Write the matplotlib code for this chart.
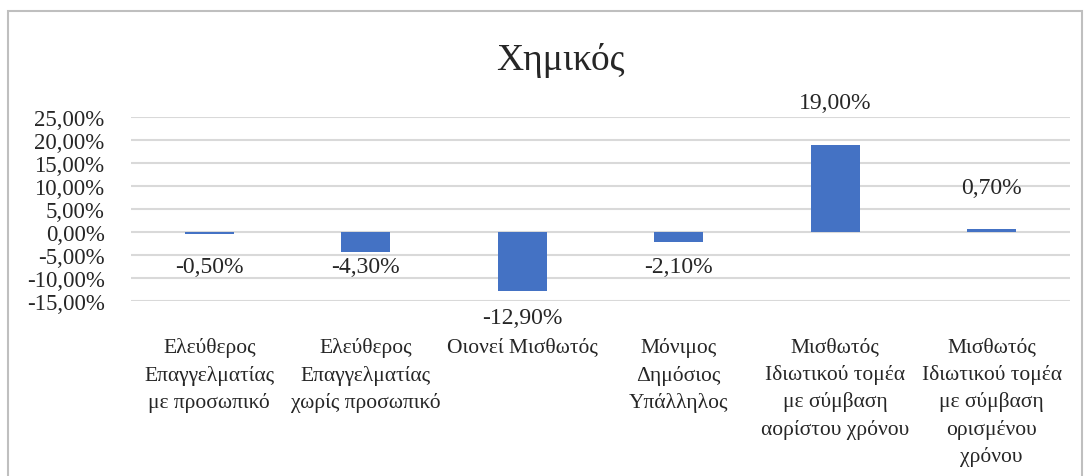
import matplotlib.pyplot as plt
from matplotlib.patches import Rectangle
from matplotlib.ticker import FuncFormatter

categories = [
    "Ελεύθερος\nΕπαγγελματίας\nμε προσωπικό",
    "Ελεύθερος\nΕπαγγελματίας\nχωρίς προσωπικό",
    "Οιονεί Μισθωτός",
    "Μόνιμος\nΔημόσιος\nΥπάλληλος",
    "Μισθωτός\nΙδιωτικού τομέα\nμε σύμβαση\nαορίστου χρόνου",
    "Μισθωτός\nΙδιωτικού τομέα\nμε σύμβαση\nορισμένου\nχρόνου",
]
values = [-0.50, -4.30, -12.90, -2.10, 19.00, 0.70]
yticks = [-15, -10, -5, 0, 5, 10, 15, 20, 25]
title = "Χημικός"


def pct(v):
    return f"{v:.2f}%".replace(".", ",")


def main():
    plt.rcParams['font.family'] = ['Liberation Serif', 'DejaVu Serif']
    fig = plt.figure(figsize=(10.89, 4.77), dpi=100)
    W, H = 1089, 477
    ax = fig.add_axes([131 / W, 1 - 302 / H, (1070 - 131) / W, (302 - 118) / H])

    # outer chart frame
    fig.patches.append(Rectangle((8 / W, -0.05), (1082 - 8) / W, 1.05 - 12 / H,
                                 transform=fig.transFigure, fill=False,
                                 edgecolor='#bfbfbf', linewidth=1.5))

    x = list(range(len(values)))
    ax.bar(x, values, width=0.31, color='#4472C4', zorder=3)
    ax.set_xlim(-0.5, len(values) - 0.5)
    ax.set_ylim(-15, 25)
    ax.set_yticks(yticks)
    ax.yaxis.set_major_formatter(FuncFormatter(lambda v, p: pct(v)))
    ax.grid(axis='y', color='#d9d9d9', linewidth=1.5, zorder=0)
    for s in ax.spines.values():
        s.set_visible(False)
    ax.tick_params(axis='both', length=0, labelsize=16.5, colors='#262626')
    ax.tick_params(axis='y', pad=19)
    ax.set_xticks(x)
    ax.set_xticklabels(categories, fontsize=15.5, linespacing=1.5)
    ax.tick_params(axis='x', labelsize=15.5, pad=26)

    for xi, v in zip(x, values):
        if v >= 0:
            ax.annotate(pct(v), (xi, v), xytext=(0, 30), textcoords='offset points',
                        ha='center', va='center', fontsize=17, color='#262626')
        else:
            ly = -7.6 if v > -7.6 else v - 5.6
            ax.text(xi, ly, pct(v), ha='center', va='center', fontsize=17,
                    color='#262626')

    fig.text(560 / W, 1 - 60 / H, title, ha='center', va='center', fontsize=27,
             color='#262626')

    fig.savefig('out.png', dpi=100)


if __name__ == "__main__":
    main()
